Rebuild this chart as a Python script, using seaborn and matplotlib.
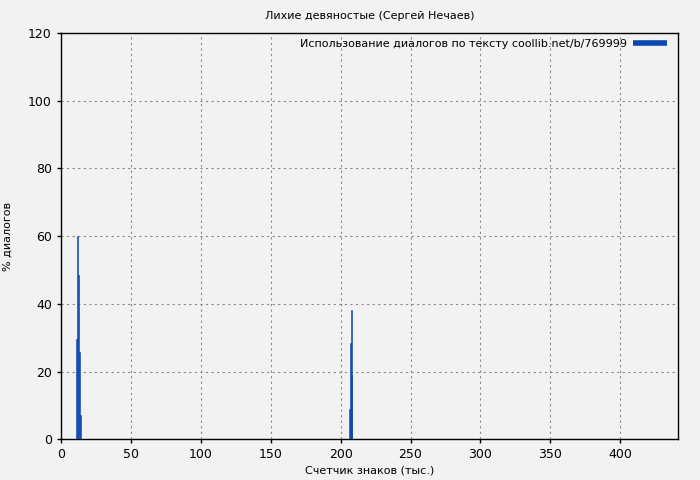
import numpy as np
import pandas as pd
import seaborn as sns
import matplotlib
matplotlib.use("Agg")
import matplotlib.pyplot as plt
from matplotlib.lines import Line2D

# dialog share per text position (thousands of chars)
positions = [11.45, 12.17, 12.88, 13.6, 14.3, 206.1, 206.8, 207.5, 207.9]
dialog_pct = [29.5, 60.0, 48.5, 25.8, 7.1, 9.0, 28.5, 38.1, 19.0]

title = "Лихие девяностые (Сергей Нечаев)"
legend_label = "Использование диалогов по тексту coollib.net/b/769999"
x_ticks = [0, 50, 100, 150, 200, 250, 300, 350, 400]
y_ticks = [0, 20, 40, 60, 80, 100, 120]

sns.set_theme(style="white")
plt.rcParams['font.family'] = ['DejaVu Sans']
plt.rcParams['text.color'] = 'black'
plt.rcParams['axes.labelcolor'] = 'black'

bar_color = "#0a47b0"
bg = "#f2f2f2"

df = pd.DataFrame({"pos": positions, "pct": dialog_pct})

fig = plt.figure(figsize=(7, 4.8), dpi=100, facecolor=bg)
ax = fig.add_axes([0.087, 0.085, 0.882, 0.846])
ax.set_facecolor(bg)

ax.bar(df["pos"], df["pct"], width=0.75, color=bar_color,
       edgecolor=bar_color, linewidth=0.4, zorder=3)

ax.set_xlim(0, 441.5)
ax.set_ylim(0, 120)
ax.set_xticks(x_ticks)
ax.set_yticks(y_ticks)
ax.grid(True, color="#888888", linestyle=(0, (2, 3)), linewidth=0.8, zorder=0)
for s in ax.spines.values():
    s.set_color("black")
    s.set_linewidth(1)
ax.tick_params(axis="both", labelsize=9, length=3, width=1, colors="black",
               direction="out", bottom=True, left=True)

ax.set_title(title, fontsize=8, pad=10, color="black")
ax.set_xlabel("Счетчик знаков (тыс.)", fontsize=8, labelpad=3)
ax.set_ylabel("% диалогов", fontsize=8, labelpad=11)

handle = Line2D([0], [0], color=bar_color, linewidth=4, solid_capstyle="butt")
ax.legend([handle], [legend_label], loc="upper right", frameon=False,
          fontsize=8, handlelength=3.0, borderaxespad=0.0, borderpad=0.5,
          handletextpad=0.6, markerfirst=False,
          bbox_to_anchor=(0.99, 1.0))

fig.savefig("out.png", dpi=100, facecolor=bg)
